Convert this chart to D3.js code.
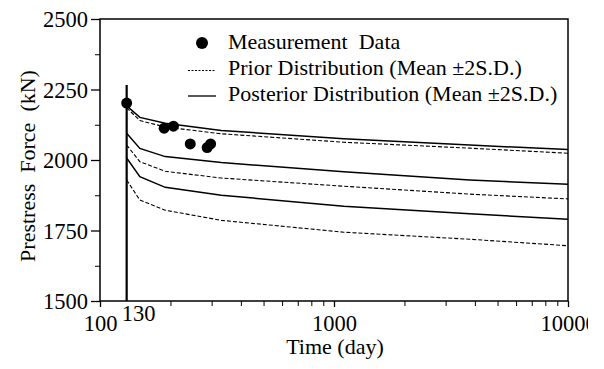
<!DOCTYPE html>
<html>
<head>
<style>
body {margin: 0; background: #fff;}
text {font-family: "Liberation Serif", "Times New Roman", serif; fill: #000;}
</style>
<script src="https://d3js.org/d3.v7.min.js"></script>
</head>
<body>
<svg id="vis" width="604" height="369"></svg>
<script>
// time points (day) for the curves
var times = [130, 148, 190, 330, 1100, 3800, 10000];

// prior distribution (dashed) mean +- 2 S.D.
var priorUpper = [2185, 2140, 2117, 2093, 2063, 2042, 2024];
var priorMean  = [2053, 1994, 1960, 1936, 1907, 1879, 1862];
var priorLower = [1929, 1858, 1822, 1786, 1744, 1719, 1696];

// posterior distribution (solid) mean +- 2 S.D.
var postUpper = [2192, 2151, 2130, 2105, 2075, 2053, 2037];
var postMean  = [2095, 2041, 2012, 1991, 1958, 1929, 1914];
var postLower = [2007, 1941, 1903, 1875, 1836, 1809, 1790];

// measurement data
var measTime  = [130, 188, 206, 243, 287, 297];
var measForce = [2202, 2113, 2120, 2057, 2044, 2057];

// prestress jump at t = 130
var jumpTime  = [130, 130];
var jumpForce = [2266, 1500];

var yTicks = [1500, 1750, 2000, 2250, 2500];
var yMinor = [1625, 1875, 2125, 2375];
var xTicks = [100, 1000, 10000];
var xTickLabels = ["100", "1000", "10000"];

var svg = d3.select("#vis");
var x = d3.scaleLog().domain([100, 10000]).range([100, 568]);
var y = d3.scaleLinear().domain([1500, 2500]).range([301, 19]);

var line = d3.line()
  .x(function(d){ return x(d[0]); })
  .y(function(d){ return y(d[1]); });

function pairs(ts, vs){ return ts.map(function(t, i){ return [t, vs[i]]; }); }

// curves
[priorUpper, priorMean, priorLower].forEach(function(s){
  svg.append("path").attr("d", line(pairs(times, s)))
    .attr("fill", "none").attr("stroke", "#000").attr("stroke-width", 1.1)
    .attr("stroke-dasharray", "4,2");
});
[postUpper, postMean, postLower].forEach(function(s){
  svg.append("path").attr("d", line(pairs(times, s)))
    .attr("fill", "none").attr("stroke", "#000").attr("stroke-width", 1.5);
});

svg.append("path").attr("d", line(pairs(jumpTime, jumpForce)))
  .attr("fill", "none").attr("stroke", "#000").attr("stroke-width", 2.2);

// frame
svg.append("rect").attr("x", 100).attr("y", 19).attr("width", 468).attr("height", 282)
  .attr("fill", "none").attr("stroke", "#000").attr("stroke-width", 1.5);

// measurement points
svg.selectAll("circle.meas").data(pairs(measTime, measForce)).enter()
  .append("circle").attr("class", "meas")
  .attr("cx", function(d){ return x(d[0]); })
  .attr("cy", function(d){ return y(d[1]); })
  .attr("r", 5.5).attr("fill", "#000");

// y axis
var yAxis = svg.append("g").attr("transform", "translate(100,0)")
  .call(d3.axisLeft(y).tickValues(yTicks).tickSize(9).tickPadding(3).tickFormat(d3.format("d")));
yAxis.select(".domain").remove();
yAxis.selectAll("line").attr("stroke-width", 1.3);
yAxis.selectAll("text").style("font-size", "22.5px").attr("dy", "0.34em");
var yAxisMinor = svg.append("g").attr("transform", "translate(100,0)")
  .call(d3.axisLeft(y).tickValues(yMinor).tickSize(5).tickFormat(""));
yAxisMinor.select(".domain").remove();

// x axis
svg.append("clipPath").attr("id", "cut").append("rect")
  .attr("x", 0).attr("y", 0).attr("width", 588).attr("height", 369);
var minor = [];
[100, 1000].forEach(function(dec){
  for (var k = 2; k <= 9; k++) minor.push(dec * k);
});
var xAxisMinor = svg.append("g").attr("transform", "translate(0,301)")
  .call(d3.axisBottom(x).tickValues(minor).tickSize(5).tickFormat(""));
xAxisMinor.select(".domain").remove();
var xAxis = svg.append("g").attr("transform", "translate(0,301)")
  .attr("clip-path", "url(#cut)")
  .call(d3.axisBottom(x).tickValues(xTicks).tickSize(6).tickPadding(8)
    .tickFormat(function(d, i){ return xTickLabels[i]; }));
xAxis.select(".domain").remove();
xAxis.selectAll("line").attr("stroke-width", 1.3);
xAxis.selectAll("text").style("font-size", "22.5px");

svg.append("text").attr("x", x(130) - 5).attr("y", 321)
  .style("font-size", "22.5px").text("130");

// axis titles
svg.append("text").attr("x", 335).attr("y", 354).attr("text-anchor", "middle")
  .style("font-size", "22px").text("Time (day)");
svg.append("text").attr("transform", "translate(35,166) rotate(-90)")
  .attr("text-anchor", "middle").style("font-size", "22px")
  .attr("xml:space", "preserve").style("white-space", "pre")
  .text("Prestress  Force  (kN)");

// legend
var lg = svg.append("g");
lg.append("circle").attr("cx", 202).attr("cy", 43).attr("r", 6).attr("fill", "#000");
lg.append("line").attr("x1", 188).attr("x2", 216).attr("y1", 70.5).attr("y2", 70.5)
  .attr("stroke", "#000").attr("stroke-width", 1).attr("stroke-dasharray", "2,1.5");
lg.append("line").attr("x1", 188).attr("x2", 216).attr("y1", 96).attr("y2", 96)
  .attr("stroke", "#000").attr("stroke-width", 1.3);
var legendText = ["Measurement  Data", "Prior Distribution (Mean \u00b12S.D.)", "Posterior Distribution (Mean \u00b12S.D.)"];
lg.selectAll("text").data(legendText).enter().append("text")
  .attr("x", 228).attr("y", function(d, i){ return 48.5 + i * 26.3; })
  .style("font-size", "22px").style("white-space", "pre").attr("xml:space", "preserve")
  .text(function(d){ return d; });
</script>
</body>
</html>
